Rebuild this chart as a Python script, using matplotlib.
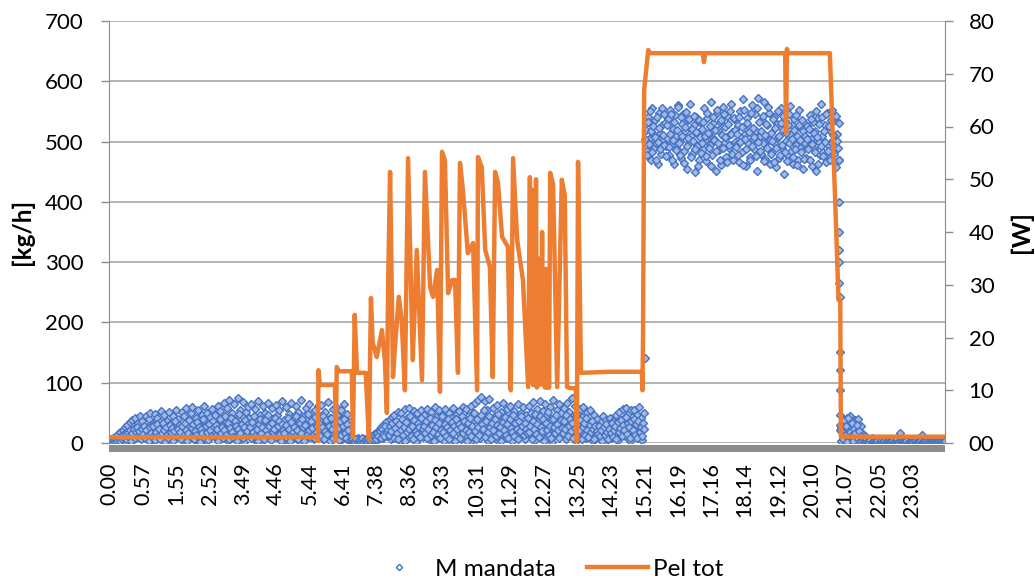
import numpy as np
import matplotlib
matplotlib.use("Agg")
import matplotlib.pyplot as plt
from matplotlib.patches import Rectangle
from matplotlib.lines import Line2D

plt.rcParams['font.family'] = ['Lato', 'DejaVu Sans']

BLUE = "#4472C4"
ORANGE = "#ED7D31"
GRID = "#a6a6a6"

# category labels on the time axis (h.mm)
time_labels = ["0.00", "0.57", "1.55", "2.52", "3.49", "4.46", "5.44", "6.41",
               "7.38", "8.36", "9.33", "10.31", "11.29", "12.27", "13.25",
               "14.23", "15.21", "16.19", "17.16", "18.14", "19.12", "20.10",
               "21.07", "22.05", "23.03"]

# M mandata [kg/h], samples at even minutes (0, 2, 4, ...), one row per hour
m_mandata_even = [
    2, 5, 1, 8, 3, 12, 6, 15, 4, 18, 9, 22, 2, 26, 11, 30, 7, 35, 14, 38, 5, 28, 41, 10, 33, 19, 44, 8, 36, 24,
    12, 45, 27, 6, 39, 50, 18, 31, 3, 48, 22, 42, 9, 35, 53, 15, 28, 46, 4, 37, 20, 51, 11, 33, 44, 7, 25, 55, 16, 40,
    30, 8, 52, 19, 44, 2, 58, 26, 37, 13, 49, 60, 21, 5, 41, 33, 55, 10, 28, 47, 16, 61, 35, 3, 50, 24, 43, 12, 57, 31,
    18, 46, 6, 62, 29, 53, 11, 40, 67, 22, 35, 58, 4, 71, 27, 49, 14, 64, 38, 9, 75, 31, 55, 20, 44, 68, 2, 52, 25, 60,
    42, 13, 65, 30, 7, 56, 37, 19, 69, 46, 24, 3, 61, 33, 50, 15, 66, 28, 41, 8, 58, 36, 21, 63, 47, 11, 54, 29, 70, 17,
    38, 5, 59, 26, 48, 14, 67, 32, 43, 9, 62, 21, 52, 36, 2, 72, 28, 45, 17, 58, 40, 12, 64, 31, 50, 23, 6, 55, 34, 61,
    44, 18, 63, 29, 7, 52, 37, 14, 68, 25, 41, 3, 57, 33, 20, 60, 11, 46, 28, 54, 6, 39, 65, 22, 48, 15, 35, 9, 3, 5,
    2, 6, 1, 4, 8, 3, 0, 5, 2, 7, 4, 1, 6, 3, 9, 5, 12, 4, 15, 8, 19, 6, 22, 13, 27, 9, 31, 17, 35, 11,
    24, 39, 7, 43, 18, 47, 30, 12, 52, 26, 4, 49, 35, 16, 56, 22, 41, 9, 58, 31, 45, 14, 53, 27, 2, 50, 38, 19, 55, 33,
    10, 46, 28, 57, 15, 39, 5, 52, 34, 21, 59, 43, 8, 30, 54, 17, 47, 25, 3, 56, 37, 12, 50, 29, 42, 6, 58, 23, 35, 48,
    19, 53, 31, 7, 60, 40, 14, 57, 26, 45, 2, 62, 35, 50, 11, 67, 24, 72, 38, 9, 76, 46, 17, 69, 30, 55, 4, 73, 41, 21,
    58, 27, 44, 6, 63, 36, 15, 51, 24, 66, 40, 8, 56, 32, 19, 61, 45, 3, 53, 28, 42, 12, 64, 34, 49, 18, 59, 25, 7, 47,
    33, 62, 15, 50, 27, 68, 5, 44, 57, 21, 38, 70, 12, 53, 30, 65, 9, 47, 24, 60, 36, 2, 72, 41, 18, 55, 29, 64, 11, 49,
    26, 58, 40, 7, 66, 34, 52, 14, 75, 45, 22, 61, 4, 48, 30, 57, 16, 43, 60, 25, 9, 51, 37, 18, 54, 28, 3, 46, 33, 12,
    40, 21, 6, 35, 17, 44, 27, 2, 38, 13, 30, 42, 8, 24, 36, 15, 47, 29, 5, 52, 33, 19, 56, 41, 11, 58, 26, 49, 3, 54,
    37, 14, 55, 28, 46, 9, 59, 22, 41, 5, 50, 141, 520, 485, 540, 505, 470, 555, 512, 490, 535, 498, 462, 548, 515, 480, 527, 503, 545, 492,
    506, 538, 477, 552, 495, 521, 463, 544, 510, 488, 560, 501, 473, 529, 546, 484, 517, 455, 536, 498, 562, 509, 480, 527, 449, 541, 493, 515, 470, 533,
    521, 487, 556, 502, 468, 539, 512, 494, 565, 478, 530, 505, 452, 547, 519, 486, 533, 461, 558, 498, 525, 474, 542, 509, 489, 563, 516, 470, 537, 500,
    494, 528, 466, 551, 507, 482, 570, 513, 459, 539, 498, 524, 475, 560, 504, 487, 545, 518, 452, 573, 509, 480, 536, 497, 565, 471, 527, 503, 548, 462,
    515, 483, 541, 496, 458, 529, 507, 472, 555, 490, 519, 447, 534, 501, 478, 546, 512, 485, 527, 463, 538, 494, 509, 470, 552, 489, 523, 455, 531, 498,
    472, 526, 491, 544, 505, 460, 533, 487, 517, 451, 539, 499, 477, 562, 510, 483, 528, 466, 548, 495, 520, 474, 553, 502, 486, 536, 458, 512, 530, 30,
    3, 18, 7, 32, 12, 41, 5, 26, 45, 9, 35, 14, 38, 4, 22, 40, 8, 28, 2, 15, 6, 11, 3, 7, 1, 4, 2, 8, 1, 3,
    2, 0, 4, 1, 3, 6, 0, 2, 1, 5, 3, 3, 0, 2, 1, 4, 0, 3, 2, 1, 0, 16, 2, 1, 3, 0, 1, 4, 2, 0,
    1, 3, 0, 2, 4, 1, 0, 4, 2, 1, 13, 3, 1, 2, 2, 0, 1, 3, 0, 2, 1, 0, 5, 1, 2, 0, 1, 3, 0, 6,
]

# M mandata [kg/h], samples at odd minutes (1, 3, 5, ...), one row per hour
m_mandata_odd = [
    1, 3, 0, 5, 2, 7, 4, 9, 3, 12, 6, 14, 8, 17, 5, 19, 10, 21, 4, 16, 24, 9, 18, 27, 12, 20, 6, 23, 15, 29,
    8, 22, 14, 3, 26, 17, 10, 29, 5, 19, 31, 12, 24, 7, 16, 33, 21, 2, 27, 13, 9, 30, 18, 25, 4, 20, 36, 11, 23, 15,
    19, 6, 28, 13, 33, 22, 3, 17, 38, 10, 25, 31, 7, 20, 14, 35, 27, 2, 23, 16, 40, 9, 29, 18, 5, 32, 21, 12, 37, 26,
    11, 30, 24, 4, 39, 17, 27, 8, 21, 45, 14, 33, 6, 25, 42, 19, 10, 36, 28, 3, 23, 48, 16, 31, 9, 26, 38, 13, 20, 34,
    27, 8, 35, 19, 44, 12, 23, 3, 31, 40, 16, 26, 7, 38, 21, 14, 46, 29, 5, 33, 18, 24, 42, 10, 28, 37, 15, 4, 32, 22,
    16, 30, 9, 41, 24, 4, 35, 19, 27, 12, 45, 22, 7, 33, 17, 39, 26, 3, 30, 14, 48, 21, 10, 36, 25, 8, 43, 18, 29, 13,
    34, 11, 26, 45, 6, 20, 38, 15, 29, 3, 42, 23, 9, 32, 18, 47, 25, 5, 36, 13, 28, 40, 17, 8, 31, 22, 4, 2, 6, 1,
    4, 1, 7, 2, 5, 0, 3, 8, 1, 4, 6, 2, 9, 3, 5, 11, 7, 14, 10, 6, 17, 12, 20, 8, 24, 15, 11, 28, 19, 22,
    14, 29, 20, 33, 9, 25, 37, 16, 6, 31, 21, 40, 13, 27, 3, 35, 18, 24, 44, 11, 29, 7, 38, 20, 15, 33, 26, 10, 42, 23,
    28, 17, 36, 8, 24, 41, 13, 30, 19, 4, 38, 26, 15, 33, 9, 22, 44, 18, 31, 12, 27, 39, 6, 21, 35, 16, 29, 3, 40, 24,
    32, 9, 27, 45, 16, 37, 22, 4, 33, 18, 41, 12, 28, 50, 20, 7, 39, 26, 14, 47, 31, 23, 55, 10, 36, 19, 44, 27, 6, 34,
    21, 39, 12, 30, 48, 17, 26, 3, 35, 22, 43, 14, 31, 9, 40, 25, 18, 46, 11, 33, 24, 6, 37, 20, 45, 29, 13, 34, 23, 16,
    42, 19, 28, 6, 37, 24, 48, 15, 31, 10, 45, 26, 20, 39, 4, 33, 22, 51, 14, 29, 8, 40, 27, 17, 46, 32, 21, 9, 38, 25,
    17, 36, 23, 46, 12, 29, 40, 20, 33, 8, 25, 44, 15, 31, 22, 38, 6, 27, 34, 13, 41, 21, 10, 30, 18, 37, 24, 7, 28, 20,
    15, 28, 11, 22, 4, 26, 13, 31, 19, 7, 24, 16, 33, 10, 21, 29, 6, 35, 18, 25, 38, 12, 30, 22, 43, 15, 34, 27, 9, 37,
    22, 40, 14, 31, 8, 36, 19, 27, 12, 33, 24, 505, 478, 532, 496, 550, 517, 483, 526, 508, 469, 541, 500, 523, 487, 556, 511, 494, 530, 476,
    528, 491, 513, 545, 470, 502, 533, 486, 519, 557, 497, 478, 540, 510, 465, 525, 549, 492, 506, 538, 474, 521, 501, 543, 488, 516, 460, 535, 507, 481,
    497, 532, 509, 476, 548, 515, 490, 526, 459, 541, 503, 519, 484, 553, 498, 470, 536, 511, 489, 545, 507, 466, 529, 494, 551, 513, 480, 539, 520, 491,
    512, 478, 540, 499, 525, 461, 553, 504, 487, 531, 516, 469, 547, 493, 522, 508, 476, 556, 500, 533, 485, 518, 543, 467, 511, 529, 490, 557, 503, 480,
    501, 537, 466, 522, 489, 550, 510, 477, 531, 495, 542, 482, 514, 468, 528, 497, 559, 505, 474, 520, 488, 544, 461, 527, 503, 483, 536, 517, 471, 509,
    504, 488, 521, 470, 537, 496, 515, 482, 551, 507, 463, 529, 493, 540, 476, 518, 500, 545, 484, 526, 469, 535, 498, 511, 480, 543, 501, 490, 470, 22,
    25, 6, 38, 14, 29, 2, 42, 19, 11, 33, 4, 24, 16, 30, 7, 20, 3, 12, 5, 9, 2, 6, 1, 3, 0, 5, 2, 1, 4, 2,
    1, 3, 0, 2, 5, 1, 0, 3, 2, 0, 4, 1, 2, 0, 3, 1, 0, 2, 6, 1, 0, 3, 1, 2, 0, 1, 3, 0, 2, 1,
    0, 2, 1, 3, 0, 1, 2, 0, 4, 1, 2, 0, 1, 3, 0, 2, 1, 0, 3, 1, 0, 2, 1, 0, 3, 1, 2, 0, 1, 4,
]

# fast samples while the flow drops around 20:57
drop_min = [1256, 1256.3, 1256.6, 1257, 1257.3, 1257.6, 1258, 1258.3, 1258.6, 1259, 1259.3, 1259.6]
drop_kgh = [470, 400, 350, 320, 300, 265, 242, 151, 121, 88, 46, 20]

# Pel tot [W], breakpoints (minutes from midnight, value)
pel_min = [0, 358, 358.6, 359.5, 362, 388, 389.5, 391, 395, 417, 419, 422, 426, 441,
           446.5, 450, 453, 460, 469, 474, 477.5, 479.5, 483, 488, 491, 498, 503, 508.5,
           514, 522, 529, 538, 543, 552, 557, 564, 569, 572.5, 577.5, 583, 590, 595,
           600, 603.5, 608.5, 617, 626, 633, 634.5, 641, 647, 655, 660, 664, 669, 676,
           686, 691, 695, 702, 712, 721, 724, 726, 728, 729.5, 731, 733, 734.5, 736,
           738, 740, 741.5, 743, 745, 747, 748.5, 750, 752, 753.5, 755, 757, 759, 764,
           771, 779, 784, 788, 793, 803, 805, 807, 812, 860, 917, 918, 919, 921, 928,
           931, 1022, 1024, 1026, 1164, 1165.5, 1167, 1169, 1241, 1250, 1256, 1259,
           1260, 1440]
pel_w = [1.1, 1.1, 0, 13.8, 11.0, 11.0, 0, 14.4, 13.6, 13.6, 1.1, 24.3, 13.3, 13.3,
         0.6, 27.5, 19.0, 16.3, 21.4, 15.7, 5.7, 29.0, 51.4, 12.5, 17.6, 27.7, 23.3, 10.0,
         54.0, 15.7, 36.6, 11.9, 51.4, 29.6, 27.7, 32.8, 9.7, 55.2, 53.6, 28.4, 30.9, 30.9,
         13.3, 53.1, 48.0, 36.0, 37.9, 10.0, 54.2, 52.3, 36.6, 33.4, 12.5, 51.4, 49.3, 39.1,
         37.2, 10.0, 54.0, 38.5, 30.9, 10.6, 50.4, 12.0, 48.0, 11.0, 47.0, 15.0, 50.0, 10.5,
         35.0, 11.0, 30.0, 12.0, 40.0, 11.0, 25.0, 10.5, 33.0, 10.5, 28.0, 10.5, 51.2, 49.0,
         10.6, 49.9, 47.0, 10.6, 10.4, 10.4, 0, 53.3, 13.3, 13.5, 13.5, 10.0, 20.0, 67.0, 74.5,
         73.9, 73.9, 72.2, 73.9, 73.9, 58.8, 74.7, 73.9, 73.9, 46.6, 27.1, 27.0,
         1.2, 1.2]

even_min = np.arange(len(m_mandata_even)) * 2
odd_min = np.arange(len(m_mandata_odd)) * 2 + 1
m_min = np.concatenate([even_min, odd_min, drop_min])
m_val = np.concatenate([m_mandata_even, m_mandata_odd, drop_kgh])
tick_min = [int(s.split(".")[0]) * 60 + int(s.split(".")[1]) for s in time_labels]

fig = plt.figure(figsize=(10.35, 5.8), dpi=100)
ax = fig.add_axes([109 / 1035, 1 - 443 / 580, 836 / 1035, 422 / 580])
ax2 = ax.twinx()

marker_style = dict(linestyle="none", marker="D", markersize=4.0,
                    markerfacecolor="#a3b9e4", markeredgecolor=BLUE, markeredgewidth=1.0)
ax.plot(m_min, m_val, **marker_style)
ax2.plot(pel_min, pel_w, color=ORANGE, linewidth=3.2, solid_joinstyle="round")

ax.set_xlim(-1.5, 1439.5)
ax.set_ylim(0, 700)
ax2.set_ylim(0, 80)

ax.set_yticks(range(0, 701, 100))
ax2.set_yticks(range(0, 81, 10))
ax2.set_yticklabels([f"{v:02d}" for v in range(0, 81, 10)])
ax.set_xticks(tick_min)
ax.set_xticklabels(time_labels, rotation=90)

ax.set_axisbelow(True)
ax.grid(axis="y", color=GRID, linewidth=1.2)
for a in (ax, ax2):
    for s in a.spines.values():
        s.set_visible(False)
ax.spines["left"].set_visible(True)
ax.spines["left"].set_color("#8c8c8c")
ax2.spines["right"].set_visible(True)
ax2.spines["right"].set_color("#8c8c8c")

ax.tick_params(axis="y", length=6, width=1, color="#8c8c8c", pad=12.5, labelsize=16)
ax2.tick_params(axis="y", length=6, width=1, color="#8c8c8c", pad=11, labelsize=16)
ax.tick_params(axis="x", length=0, pad=14, labelsize=15.5)

# thick grey category axis band
ax.add_patch(Rectangle((0, -9 / 422), 1, 7 / 422, transform=ax.transAxes,
                       clip_on=False, color="#8c8c8c", linewidth=0))

fig.text(22 / 1035, 1 - 232 / 580, "[kg/h]", rotation=90, ha="center", va="center",
         fontsize=17.5, fontweight="bold")
fig.text(1021 / 1035, 1 - 232 / 580, "[W]", rotation=90, ha="center", va="center",
         fontsize=18, fontweight="bold")

handles = [
    Line2D([], [], linestyle="none", marker="D", markersize=3.2,
           markerfacecolor="white", markeredgecolor=BLUE, markeredgewidth=1.0),
    Line2D([], [], color=ORANGE, linewidth=3.2),
]
fig.legend(handles, ["M mandata", "Pel tot"], loc="center",
           bbox_to_anchor=(546 / 1035, 1 - 569 / 580), ncol=2, frameon=False,
           fontsize=17.5, handlelength=2.5, handletextpad=0.2, columnspacing=1.3)

fig.savefig("out.png", dpi=100)
